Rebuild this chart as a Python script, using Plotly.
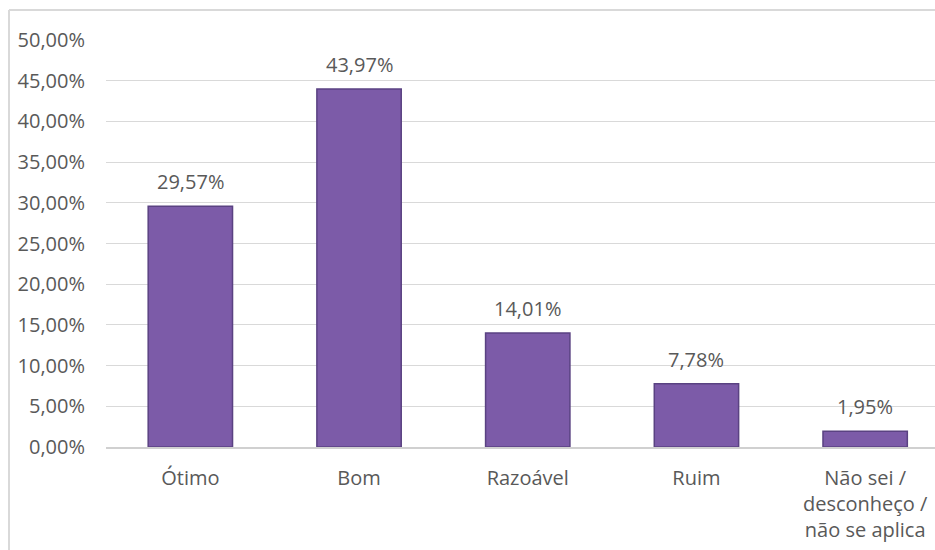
import plotly.graph_objects as go

# Dados
categorias = ["Ótimo", "Bom", "Razoável", "Ruim", "Não sei /<br>desconheço /<br>não se aplica"]
percentuais = [29.57, 43.97, 14.01, 7.78, 1.95]
ticks_y = [0, 5, 10, 15, 20, 25, 30, 35, 40, 45, 50]

cor_texto = "#595959"
cor_grade = "#d9d9d9"

fig = go.Figure(go.Bar(
    x=categorias,
    y=percentuais,
    marker=dict(color="#7c5ba8", line=dict(color="#5a4282", width=1.5)),
    hoverinfo="x+y",
))

# Rótulos de dados acima das barras
for cat, val in zip(categorias, percentuais):
    fig.add_annotation(
        x=cat, y=val, xref="x", yref="y",
        text=f"{val:.2f}".replace(".", ",") + "%",
        showarrow=False, yanchor="bottom", yshift=9,
        font=dict(size=20, color=cor_texto),
    )

# Borda da área do gráfico (parcialmente cortada na imagem)
x_borda = (9 - 106) / 829
y_borda = (447 - 10) / 407
fig.add_shape(type="line", xref="paper", yref="paper",
              x0=x_borda, x1=x_borda, y0=-0.4, y1=y_borda,
              line=dict(color=cor_grade, width=2))
fig.add_shape(type="line", xref="paper", yref="paper",
              x0=x_borda, x1=1.2, y0=y_borda, y1=y_borda,
              line=dict(color=cor_grade, width=2))

fig.update_layout(
    width=935, height=550,
    margin=dict(l=106, r=0, t=40, b=103),
    paper_bgcolor="white", plot_bgcolor="white",
    font=dict(family="Open Sans", size=20, color=cor_texto),
    bargap=0.5,
    showlegend=False,
)
fig.update_xaxes(
    type="category",
    range=[-0.5, 4.414],
    showgrid=False,
    showline=True, linecolor="#d0d0d0", linewidth=1.5,
    ticks="", ticklabelstandoff=12,
    tickfont=dict(size=20, color=cor_texto),
)
fig.update_yaxes(
    range=[0, 50],
    tickvals=ticks_y,
    ticktext=[f"{t:.2f}".replace(".", ",") + "%" for t in ticks_y],
    showgrid=True, gridcolor=cor_grade, gridwidth=1,
    zeroline=False, showline=False,
    ticks="", ticklabelstandoff=20,
    tickfont=dict(size=20, color=cor_texto),
)

fig.write_html(
    "out.html",
    config={"displayModeBar": False},
    post_script="document.body.style.margin='0';document.body.style.overflow='hidden';",
)
